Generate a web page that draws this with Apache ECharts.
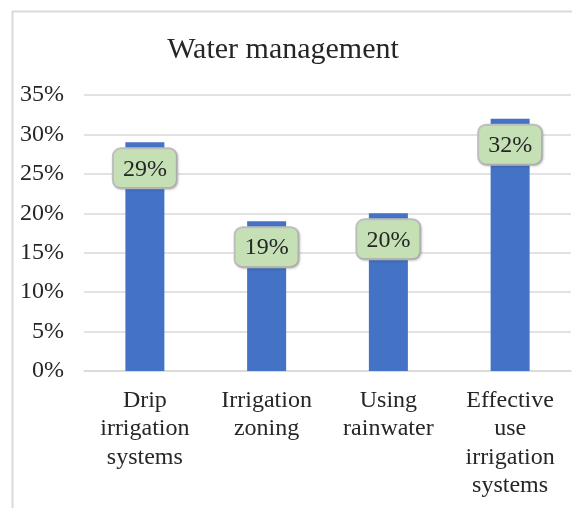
<!DOCTYPE html>
<html><head><meta charset="utf-8">
<script src="https://cdn.jsdelivr.net/npm/echarts@6/dist/echarts.min.js"></script>
<style>html,body{margin:0;padding:0;background:#fff}#c{width:572px;height:508px}</style>
</head><body><div id="c"></div>
<script>
const categories = ["Drip\nirrigation\nsystems", "Irrigation\nzoning", "Using\nrainwater", "Effective\nuse\nirrigation\nsystems"];
const values = [29, 19, 20, 32];
const yTicks = { min: 0, max: 35, interval: 5 };
const titleText = "Water management";

const serif = '"Liberation Serif", "Times New Roman", serif';
const chart = echarts.init(document.getElementById('c'), null, { renderer: 'canvas' });
chart.setOption({
  animation: false,
  backgroundColor: '#fff',
  graphic: [{
    type: 'rect', left: 10, top: 9, shape: { width: 600, height: 560 },
    style: { fill: 'none', stroke: '#D9D9D9', lineWidth: 2 }, silent: true, z: -1
  }],
  title: {
    text: titleText, left: 278, top: 30, textAlign: 'center',
    textStyle: { fontFamily: serif, fontSize: 30, fontWeight: 'normal', color: '#262626' }
  },
  grid: { left: 84, right: 1, top: 95, bottom: 137, containLabel: false },
  xAxis: {
    type: 'category', data: categories,
    axisLine: { lineStyle: { color: '#D9D9D9', width: 1.5 } },
    axisTick: { show: false },
    axisLabel: { fontFamily: serif, fontSize: 24, color: '#262626', lineHeight: 28.5, margin: 15, interval: 0 }
  },
  yAxis: {
    type: 'value', min: yTicks.min, max: yTicks.max, interval: yTicks.interval,
    axisLine: { show: false }, axisTick: { show: false },
    splitLine: { lineStyle: { color: '#D9D9D9', width: 1.5 } },
    axisLabel: { fontFamily: serif, fontSize: 24, color: '#262626', margin: 20, formatter: v => v + '%' }
  },
  series: [{
    type: 'bar', data: values, barWidth: 39,
    itemStyle: { color: '#4472C4' },
    label: {
      show: true, position: 'insideTop', distance: 7,
      formatter: p => p.value + '%',
      fontFamily: serif, fontSize: 24, color: '#262626',
      backgroundColor: '#C5E0B4', borderColor: '#BFBFBF', borderWidth: 2, borderRadius: 7,
      padding: [8, 9, 6, 9],
      shadowColor: 'rgba(0,0,0,0.15)', shadowBlur: 2, shadowOffsetX: 1, shadowOffsetY: 1
    }
  }]
});
</script></body></html>
